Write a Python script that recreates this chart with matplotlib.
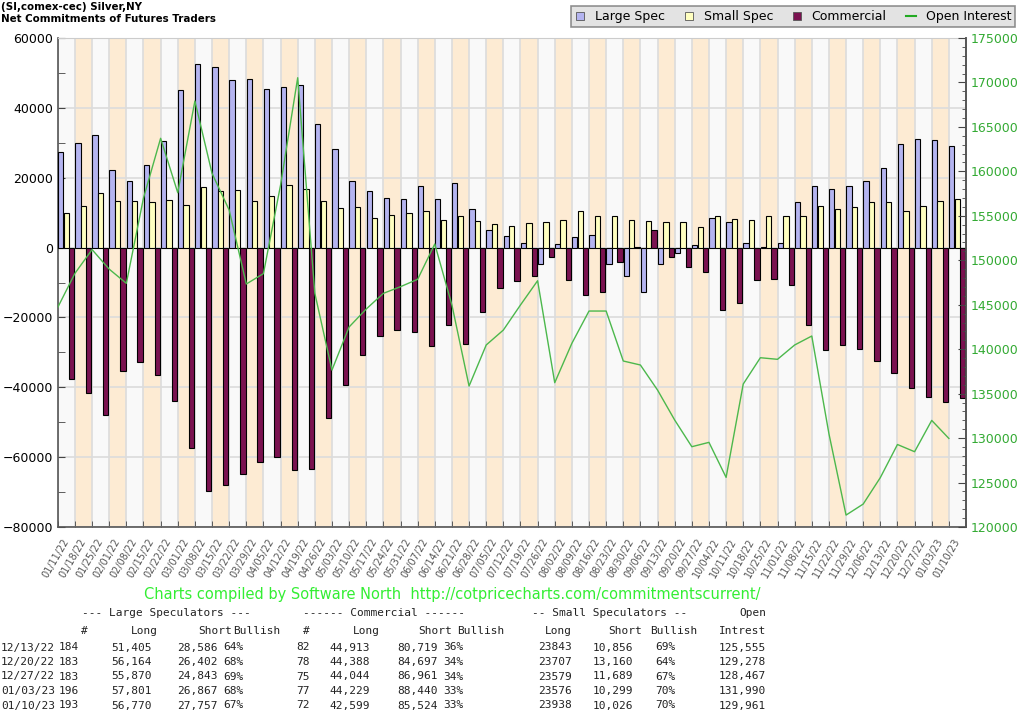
import matplotlib
matplotlib.use("Agg")
import matplotlib.pyplot as plt
from matplotlib.lines import Line2D
from matplotlib.ticker import MultipleLocator, FixedLocator
import numpy as np

# ---------------- data ----------------
dates = ["01/11/22", "01/18/22", "01/25/22", "02/01/22", "02/08/22", "02/15/22", "02/22/22",
         "03/01/22", "03/08/22", "03/15/22", "03/22/22", "03/29/22", "04/05/22", "04/12/22",
         "04/19/22", "04/26/22", "05/03/22", "05/10/22", "05/17/22", "05/24/22", "05/31/22",
         "06/07/22", "06/14/22", "06/21/22", "06/28/22", "07/05/22", "07/12/22", "07/19/22",
         "07/26/22", "08/02/22", "08/09/22", "08/16/22", "08/23/22", "08/30/22", "09/06/22",
         "09/13/22", "09/20/22", "09/27/22", "10/04/22", "10/11/22", "10/18/22", "10/25/22",
         "11/01/22", "11/08/22", "11/15/22", "11/22/22", "11/29/22", "12/06/22", "12/13/22",
         "12/20/22", "12/27/22", "01/03/23", "01/10/23"]

large_spec = [27400, 29800, 32100, 22200, 19200, 23500, 30500, 45000, 52600, 51600,
              47900, 48200, 45300, 45900, 46500, 35300, 28200, 19200, 16200, 14200,
              13900, 17600, 13900, 18500, 10900, 5000, 3400, 1300, -4600, 1000,
              3000, 3700, -4600, -8200, -12800, -4600, -1500, 700, 8500, 7400,
              1300, 200, 1300, 13000, 17600, 16900, 17600, 19200, 22819, 29762,
              31027, 30934, 29013]

small_spec = [9900, 12000, 15700, 13300, 13300, 13000, 13600, 12300, 17200, 16200,
              16500, 13300, 14900, 18000, 16900, 13300, 11300, 11700, 8600, 9300,
              9900, 10600, 8000, 9000, 7700, 6700, 6300, 7100, 7400, 8000,
              10600, 9000, 9000, 8000, 7700, 7400, 7400, 6000, 9000, 8300,
              8000, 9000, 9000, 9000, 12000, 10900, 11700, 13000, 12987, 10547,
              11890, 13277, 13912]

commercial = [-37600, -41600, -47800, -35400, -32800, -36400, -44000, -57400, -69600, -67900,
              -64800, -61500, -60100, -63700, -63400, -48900, -39300, -30700, -25200, -23500,
              -24200, -28100, -22200, -27500, -18500, -11700, -9600, -8200, -2700, -9300,
              -13600, -12700, -4200, 300, 5100, -2700, -5500, -7000, -17800, -15900,
              -9300, -9000, -10600, -22200, -29400, -27800, -29000, -32400, -35806, -40309,
              -42917, -44211, -42925]

open_interest = [144710, 148530, 151200, 149000, 147410, 157000, 163720, 157600, 167910, 159780,
                 155650, 147330, 148500, 158460, 170530, 146280, 137650, 142500, 144520, 146280,
                 147030, 147860, 151830, 144970, 135850, 140470, 142150, 144970, 147700, 136230,
                 140660, 144290, 144290, 138670, 138220, 135400, 132030, 129030, 129520, 125580,
                 136080, 139040, 138860, 140470, 141480, 130500, 121340, 122580, 125555, 129278,
                 128467, 131990, 129961]

# table data
tbl_dates = ["12/13/22", "12/20/22", "12/27/22", "01/03/23", "01/10/23"]
ls_n = [184, 183, 183, 196, 193]
ls_long = [51405, 56164, 55870, 57801, 56770]
ls_short = [28586, 26402, 24843, 26867, 27757]
ls_bull = [64, 68, 69, 68, 67]
cm_n = [82, 78, 75, 77, 72]
cm_long = [44913, 44388, 44044, 44229, 42599]
cm_short = [80719, 84697, 86961, 88440, 85524]
cm_bull = [36, 34, 34, 33, 33]
ss_long = [23843, 23707, 23579, 23576, 23938]
ss_short = [10856, 13160, 11689, 10299, 10026]
ss_bull = [69, 64, 67, 70, 70]
oi_tab = [125555, 129278, 128467, 131990, 129961]

# ---------------- figure ----------------
W, H = 1024, 714
fig = plt.figure(figsize=(W / 100, H / 100), dpi=100)
fig.patch.set_facecolor("white")

def fx(px):
    return px / W

def fy(py):
    return 1 - py / H

ax_l, ax_r, ax_t, ax_b = 57.8, 966, 38, 527
ax = fig.add_axes([fx(ax_l), fy(ax_b), fx(ax_r - ax_l), (ax_b - ax_t) / H])
ax.set_facecolor("#f9f9f9")

n = len(dates)
x = np.arange(n)

for i in range(n):
    if i % 2 == 1:
        ax.axvspan(i - 0.5, i + 0.5, color="#fdebd3", zorder=0, lw=0)

bw = 0.31
ax.bar(x - 0.33, large_spec, width=bw, color="#b4b4f0", edgecolor="black", lw=0.8, zorder=3)
ax.bar(x - 0.01, small_spec, width=bw, color="#ffffc0", edgecolor="black", lw=0.8, zorder=3)
ax.bar(x + 0.30, commercial, width=bw, color="#7a1250", edgecolor="black", lw=0.8, zorder=3)

ax.set_xlim(-0.5, n - 0.5)
ax.set_ylim(-80000, 60000)
ax.yaxis.set_major_locator(MultipleLocator(20000))
ax.yaxis.set_minor_locator(MultipleLocator(10000))
ax.set_xticks(x)
ax.set_xticklabels(dates, rotation=60, ha="right", va="center", rotation_mode="anchor",
                   fontsize=7, color="#555555")
ax.xaxis.set_minor_locator(FixedLocator(np.arange(-0.5, n, 1.0)))
ax.tick_params(axis="x", which="major", length=0, pad=9)
ax.tick_params(axis="x", which="minor", direction="in", length=4, color="#444444")
ax.tick_params(axis="y", which="both", direction="in", labelsize=9, color="#444444")
ax.tick_params(axis="y", which="major", length=5)
ax.tick_params(axis="y", which="minor", length=5)
ax.grid(which="minor", axis="x", color="#dcdcdc", lw=1.2, zorder=1)
ax.grid(which="major", axis="y", color="#dcdcdc", lw=1.2, zorder=1)
ax.set_axisbelow(True)
for s in ["left", "bottom", "right"]:
    ax.spines[s].set_color("#555555")
    ax.spines[s].set_linewidth(1.2)
ax.spines["top"].set_color("#cccccc")

ax2 = ax.twinx()
ax2.plot(x - 0.5, open_interest, color="#4cb84c", lw=1.0, zorder=5)
ax2.set_ylim(120000, 175000)
ax2.yaxis.set_major_locator(MultipleLocator(5000))
ax2.yaxis.set_minor_locator(MultipleLocator(1000))
ax2.tick_params(axis="y", which="both", direction="in", labelsize=9, labelcolor="#33aa33",
                color="#444444")
ax2.tick_params(axis="y", which="major", length=6)
ax2.tick_params(axis="y", which="minor", length=3)
ax2.spines["right"].set_color("#555555")
ax2.spines["right"].set_linewidth(1.2)
ax2.spines["top"].set_visible(False)
ax2.spines["left"].set_visible(False)
ax2.spines["bottom"].set_visible(False)

# ---------------- titles ----------------
fig.text(fx(1), fy(7), "(SI,comex-cec) Silver,NY", fontsize=7.4, fontweight="bold",
         ha="left", va="center")
fig.text(fx(1), fy(19), "Net Commitments of Futures Traders", fontsize=7.4, fontweight="bold",
         ha="left", va="center")

# ---------------- legend ----------------
handles = [
    Line2D([], [], ls="none", marker="s", markersize=5.5, markerfacecolor="#b4b4f0",
           markeredgecolor="#555555", markeredgewidth=0.6, label="Large Spec"),
    Line2D([], [], ls="none", marker="s", markersize=5.5, markerfacecolor="#ffffc0",
           markeredgecolor="#555555", markeredgewidth=0.6, label="Small Spec"),
    Line2D([], [], ls="none", marker="s", markersize=5.5, markerfacecolor="#7a1250",
           markeredgecolor="#555555", markeredgewidth=0.6, label="Commercial"),
    Line2D([], [], color="#22aa22", lw=1.5, label="Open Interest"),
]
leg = fig.legend(handles=handles, loc="upper right", bbox_to_anchor=(fx(1021), fy(0)),
                 ncol=4, fontsize=9, frameon=True, fancybox=False, handlelength=0.8,
                 handletextpad=0.8, columnspacing=1.5, borderpad=0.3)
leg.get_frame().set_facecolor("#dcdcdc")
leg.get_frame().set_edgecolor("#777777")
leg.get_frame().set_linewidth(1.2)

# ---------------- footer ----------------
fig.text(fx(452), fy(594),
         "Charts compiled by Software North  http://cotpricecharts.com/commitmentscurrent/",
         fontsize=10.5, color="#33ee33", ha="center", va="center")

mono = dict(family="DejaVu Sans Mono", fontsize=8, color="#222222", va="center")

h1, h2 = 613, 631
fig.text(fx(82), fy(h1), "--- Large Speculators ---", ha="left", **mono)
fig.text(fx(303), fy(h1), "------ Commercial ------", ha="left", **mono)
fig.text(fx(532), fy(h1), "-- Small Speculators --", ha="left", **mono)
fig.text(fx(766), fy(h1), "Open", ha="right", **mono)

hdr2 = [(88, "#"), (158, "Long"), (232, "Short"), (280, "Bullish"), (310, "#"),
        (380, "Long"), (452, "Short"), (504, "Bullish"), (572, "Long"), (642, "Short"),
        (697, "Bullish"), (766, "Intrest")]
for px_r, t in hdr2:
    fig.text(fx(px_r), fy(h2), t, ha="right", **mono)

row_y = [647.5, 662, 676.5, 691, 705.5]
for r in range(len(tbl_dates)):
    yy = fy(row_y[r])
    fig.text(fx(1), yy, tbl_dates[r], ha="left", **mono)
    cells = [
        (79, f"{ls_n[r]}"),
        (152, f"{ls_long[r]:,}"),
        (218, f"{ls_short[r]:,}"),
        (243, f"{ls_bull[r]}%"),
        (310, f"{cm_n[r]}"),
        (370, f"{cm_long[r]:,}"),
        (438, f"{cm_short[r]:,}"),
        (463, f"{cm_bull[r]}%"),
        (572, f"{ss_long[r]}"),
        (633, f"{ss_short[r]:,}"),
        (675, f"{ss_bull[r]}%"),
        (766, f"{oi_tab[r]:,}"),
    ]
    for px_r, t in cells:
        fig.text(fx(px_r), yy, t, ha="right", **mono)

fig.savefig("out.png", dpi=100)
